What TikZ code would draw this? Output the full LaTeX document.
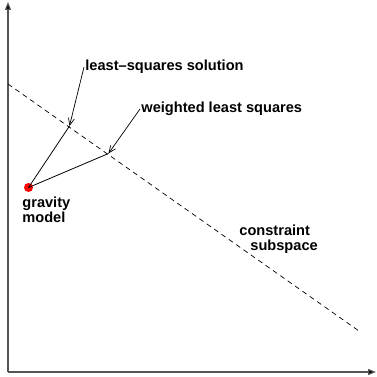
\documentclass[tikz,border=0pt]{standalone}
\usepackage{fontspec}
\setmainfont{Liberation Sans}
\usetikzlibrary{arrows.meta, positioning}
\definecolor{caxis}{HTML}{555555}
\definecolor{cdot}{HTML}{FF0000}
\tikzset{
  every picture/.style={font=\bfseries\fontsize{14.6}{15}\selectfont, line width=0.8pt},
  axis/.style={draw=caxis, line width=1.1pt, -{Triangle[length=8pt, width=6pt, fill=black]}},
  constraint/.style={dash pattern=on 5pt off 4pt, line width=0.7pt},
  ray/.style={line width=0.8pt},
  pointer/.style={-{Straight Barb[length=7pt, width=6pt]}, line width=0.7pt},
  label/.style={inner sep=1pt, align=left},
  dot/.style={circle, fill=cdot, inner sep=0pt, minimum size=9pt},
}

\begin{document}
\begin{tikzpicture}[x=1pt, y=-1pt]
  \useasboundingbox (0,0) rectangle (376,377);
  % axes
  \coordinate (o) at (8,372);
  \coordinate (ytip) at (8,2);
  \coordinate (xtip) at (376,372);
  \draw[axis] (o) -- (ytip);
  \draw[axis] (o) -- (xtip);
  % constraint subspace
  \coordinate (cs1) at (8,84);
  \coordinate (cs2) at (359,331);
  \draw[constraint] (cs1) -- (cs2);
  \node[label, anchor=north west] (cslab) at (238,224) {constraint\\\hspace*{11pt}subspace};
  % solutions
  \coordinate (ls) at (69.5,126);
  \coordinate (wls) at (108.5,153.5);
  \node[dot] (gm) at (28.5,187.5) {};
  \draw[ray] (gm.center) -- (ls);
  \draw[ray] (gm.center) -- (wls);
  \node[label, anchor=north west] (gmlab) at (21,196) {gravity\\model};
  % labels
  \node[label, anchor=west] (lslab) at (84,67) {least--squares solution};
  \node[label, anchor=west] (wlslab) at (140,109) {weighted least squares};
  \draw[pointer] (lslab.west) -- (ls);
  \draw[pointer] (wlslab.west) -- (wls);
\end{tikzpicture}
\end{document}
